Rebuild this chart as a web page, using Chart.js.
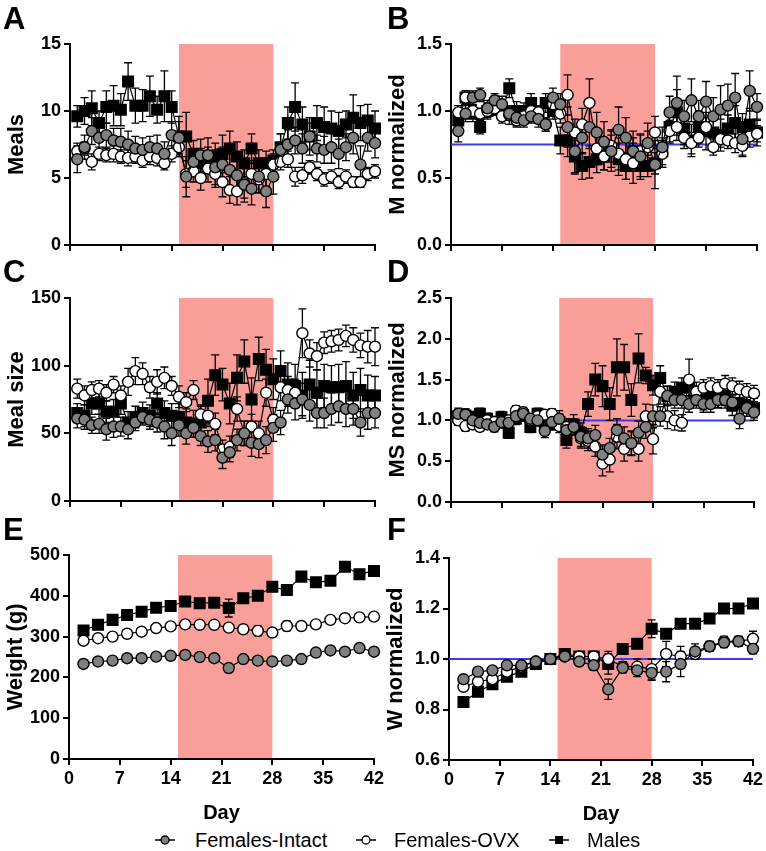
<!DOCTYPE html>
<html>
<head>
<meta charset="utf-8">
<script src="https://cdn.jsdelivr.net/npm/chart.js@4.4.0/dist/chart.umd.min.js"></script>
<style>
  body { margin: 0; background: #fff; width: 766px; height: 851px; position: relative; overflow: hidden;
         font-family: "Liberation Sans", Arial, sans-serif; }
  canvas { position: absolute; }
  .letter { position: absolute; font-weight: bold; font-size: 31px; line-height: 1; }
  .legend { position: absolute; top: 828px; left: 0; width: 766px; height: 24px; font-size: 20px; }
  .item { position: absolute; top: 0; line-height: 24px; }
  .item svg { position: absolute; top: 5px; }
</style>
</head>
<body>

<canvas id="chartA"></canvas>
<canvas id="chartB"></canvas>
<canvas id="chartC"></canvas>
<canvas id="chartD"></canvas>
<canvas id="chartE"></canvas>
<canvas id="chartF"></canvas>

<div class="letter" style="left:3px;top:3px">A</div>
<div class="letter" style="left:387px;top:3px">B</div>
<div class="letter" style="left:3px;top:256px">C</div>
<div class="letter" style="left:387px;top:256px">D</div>
<div class="letter" style="left:3px;top:514px">E</div>
<div class="letter" style="left:387px;top:514px">F</div>

<div class="legend">
  <div class="item" style="left:154px"><svg width="22" height="14"><line x1="1" y1="7" x2="21" y2="7" stroke="#000" stroke-width="1.5"/><circle cx="11" cy="7" r="4" fill="#808080" stroke="#000" stroke-width="1.3"/></svg><span style="position:absolute;left:41px;white-space:nowrap">Females-Intact</span></div>
  <div class="item" style="left:355px"><svg width="22" height="14"><line x1="1" y1="7" x2="21" y2="7" stroke="#000" stroke-width="1.5"/><circle cx="11" cy="7" r="4" fill="#fff" stroke="#000" stroke-width="1.3"/></svg><span style="position:absolute;left:39px;white-space:nowrap">Females-OVX</span></div>
  <div class="item" style="left:548px"><svg width="22" height="14"><line x1="1" y1="7" x2="21" y2="7" stroke="#000" stroke-width="1.5"/><rect x="7" y="3" width="8" height="8" fill="#000"/></svg><span style="position:absolute;left:39px;white-space:nowrap">Males</span></div>
</div>

<script>
// Days (daily panels A-D) and weighing days (panels E-F)
const days = [1,2,3,4,5,6,7,8,9,10,11,12,13,14,15,16,17,18,19,20,21,22,23,24,25,26,27,28,29,30,31,32,33,34,35,36,37,38,39,40,41,42];
const weighDays = [2,4,6,8,10,12,14,16,18,20,22,24,26,28,30,32,34,36,38,40,42];
const xTicks = [0,7,14,21,28,35,42];
const shadeFrom = 15, shadeTo = 28;

// A: Meals
const mealsIntact = [6.4,7.3,8.5,8.0,8.2,7.8,7.7,7.5,7.2,7.1,7.3,7.2,6.8,8.2,8.0,5.1,6.2,6.7,6.7,5.8,6.0,5.6,5.2,4.5,4.2,5.1,4.0,5.1,7.1,7.5,7.8,7.2,8.1,7.2,7.1,7.3,6.8,7.3,8.0,6.0,8.0,7.6];
const mealsIntactErr = [1.0,0.9,1.0,1.0,0.9,0.9,1.0,1.0,0.9,0.9,0.8,1.0,0.9,1.0,1.2,1.5,1.0,1.2,1.3,1.3,1.3,1.4,1.4,1.3,1.2,1.2,1.2,1.3,1.2,1.1,1.0,1.1,1.0,1.0,1.0,1.2,1.1,1.0,1.2,1.4,1.0,1.1];
const mealsOVX = [7.0,7.2,6.2,6.8,6.7,6.8,6.6,6.5,6.6,6.3,6.6,6.5,6.1,6.8,7.3,5.3,5.5,5.0,5.7,5.3,4.7,4.1,4.0,4.6,5.3,4.9,5.3,6.0,6.2,6.4,5.1,5.2,5.8,5.3,4.9,5.1,4.7,5.1,4.7,4.7,5.3,5.5];
const mealsOVXErr = [0.6,0.5,0.6,0.5,0.5,0.6,0.5,0.6,0.5,0.5,0.6,0.6,0.5,0.6,0.7,1.0,0.8,0.9,1.0,1.0,1.1,1.0,1.0,1.1,1.0,1.0,0.9,0.8,0.6,0.6,0.7,0.6,0.5,0.5,0.5,0.5,0.5,0.5,0.4,0.4,0.5,0.5];
const mealsMales = [9.6,10.0,10.2,9.1,10.3,10.4,10.1,12.2,10.4,10.4,11.1,10.1,11.1,10.3,8.1,8.1,6.8,6.1,6.3,6.6,6.8,7.2,6.6,6.1,7.2,6.1,6.1,6.3,7.3,9.1,10.3,9.0,8.1,9.1,8.8,8.7,8.5,9.0,9.5,9.1,9.3,8.7];
const mealsMalesErr = [0.8,1.0,1.3,0.9,1.2,1.5,1.2,1.4,1.3,1.2,1.5,1.0,1.9,1.2,1.5,1.8,1.0,1.1,1.0,1.0,1.4,1.3,1.1,1.0,1.1,1.0,0.9,0.8,1.0,1.2,1.8,1.3,1.4,1.3,1.5,1.3,1.4,1.0,1.7,1.3,1.2,1.3];

// B: M normalized
const mNormIntact = [0.85,0.98,1.10,1.12,1.02,1.08,1.05,0.98,0.95,0.93,0.96,0.94,0.90,1.10,1.05,0.88,0.70,0.80,0.88,0.84,0.77,0.70,0.86,0.80,0.70,0.66,0.76,0.60,0.73,0.99,1.06,0.96,1.08,0.96,1.07,0.96,1.01,1.04,1.10,0.79,1.15,1.03];
const mNormIntactErr = [0.08,0.06,0.05,0.05,0.06,0.05,0.06,0.05,0.06,0.05,0.05,0.06,0.05,0.07,0.08,0.15,0.17,0.12,0.16,0.15,0.15,0.15,0.17,0.15,0.15,0.17,0.15,0.18,0.15,0.12,0.20,0.12,0.16,0.12,0.15,0.14,0.18,0.16,0.18,0.12,0.15,0.10];
const mNormOVX = [0.99,1.10,1.00,0.98,1.00,1.02,0.96,0.97,0.93,0.96,1.00,0.99,0.90,1.05,0.98,1.12,0.84,0.90,1.06,0.72,0.66,0.74,0.68,0.64,0.61,0.70,0.73,0.84,0.68,0.85,0.88,0.80,0.76,0.80,0.88,0.73,0.79,0.78,0.76,0.74,0.81,0.83];
const mNormOVXErr = [0.05,0.05,0.04,0.04,0.05,0.05,0.05,0.07,0.05,0.04,0.05,0.05,0.05,0.05,0.07,0.15,0.10,0.12,0.18,0.12,0.10,0.12,0.12,0.15,0.15,0.12,0.12,0.12,0.10,0.08,0.10,0.08,0.08,0.07,0.07,0.06,0.06,0.06,0.07,0.08,0.08,0.06];
const mNormMales = [0.93,1.10,0.98,0.88,1.00,1.04,1.00,1.17,1.00,1.00,1.06,0.97,1.06,1.00,0.78,0.78,0.66,0.59,0.62,0.64,0.66,0.70,0.64,0.59,0.70,0.59,0.59,0.61,0.70,0.88,0.99,0.87,0.78,0.88,0.85,0.84,0.82,0.87,0.91,0.88,0.90,0.84];
const mNormMalesErr = [0.06,0.05,0.06,0.05,0.06,0.07,0.07,0.07,0.07,0.06,0.07,0.06,0.07,0.06,0.10,0.12,0.12,0.10,0.12,0.10,0.10,0.12,0.12,0.10,0.10,0.08,0.08,0.08,0.10,0.12,0.17,0.12,0.12,0.12,0.14,0.12,0.12,0.10,0.13,0.10,0.12,0.10];

// C: Meal size
const sizeIntact = [61,60,56,57,53,55,55,53,58,62,60,58,55,50,56,50,54,48,44,45,32,36,45,50,43,42,45,54,58,75,72,75,71,65,65,68,70,68,68,58,65,65];
const sizeIntactErr = [7,7,6,7,8,8,7,7,6,6,7,7,9,9,8,8,7,7,8,8,8,7,8,9,10,10,10,10,9,10,12,12,12,11,11,12,12,13,12,10,12,11];
const sizeOVX = [83,78,82,83,80,86,78,88,96,94,84,88,91,85,77,73,82,64,63,57,38,40,68,50,55,50,80,60,84,82,80,124,109,107,117,118,119,122,119,115,114,114];
const sizeOVXErr = [7,7,6,6,6,6,7,10,10,8,8,9,8,7,8,7,7,7,8,8,7,8,9,9,9,9,10,9,10,10,10,18,10,10,8,8,8,8,9,9,12,14];
const sizeMales = [65,63,72,72,66,66,72,58,62,65,63,72,65,63,62,58,57,58,74,93,86,72,91,103,75,105,97,90,96,86,85,78,86,80,85,84,84,85,78,82,78,78];
const sizeMalesErr = [7,8,8,8,8,9,8,8,8,8,8,8,9,9,10,10,10,12,16,15,12,15,17,16,16,16,15,15,15,16,16,17,18,17,16,16,17,18,17,16,15,14];

// D: MS normalized
const sNormIntact = [1.08,1.07,1.00,0.97,0.95,0.92,0.98,0.97,1.05,1.08,1.02,1.00,0.87,0.98,1.02,0.88,0.92,0.80,0.78,0.82,0.58,0.66,0.88,0.78,0.72,0.85,0.92,1.05,1.05,1.30,1.25,1.25,1.20,1.25,1.20,1.20,1.25,1.25,1.22,1.02,1.15,1.10];
const sNormIntactErr = [0.07,0.07,0.06,0.06,0.06,0.06,0.07,0.07,0.07,0.07,0.06,0.07,0.08,0.07,0.10,0.10,0.10,0.12,0.12,0.12,0.12,0.12,0.14,0.14,0.14,0.14,0.14,0.14,0.12,0.12,0.10,0.10,0.10,0.10,0.10,0.10,0.10,0.10,0.10,0.12,0.10,0.10];
const sNormOVX = [1.00,0.93,0.95,0.92,1.00,0.98,0.97,1.00,1.12,1.10,1.00,1.05,1.07,1.08,0.93,0.92,0.92,0.78,0.75,0.68,0.47,0.52,0.80,0.65,0.72,0.65,1.05,0.77,1.35,1.05,1.00,0.97,1.50,1.35,1.40,1.42,1.40,1.45,1.42,1.38,1.35,1.33];
const sNormOVXErr = [0.06,0.06,0.05,0.05,0.06,0.06,0.06,0.06,0.06,0.06,0.06,0.06,0.06,0.06,0.08,0.10,0.10,0.12,0.12,0.12,0.15,0.15,0.15,0.15,0.15,0.15,0.15,0.18,0.15,0.15,0.12,0.10,0.25,0.12,0.10,0.10,0.10,0.10,0.10,0.10,0.10,0.10];
const sNormMales = [1.05,1.06,1.04,1.08,1.02,0.98,1.04,0.85,1.02,1.06,0.92,1.08,0.98,0.96,0.98,0.76,0.95,0.85,1.20,1.50,1.42,1.20,1.65,1.65,1.25,1.76,1.55,1.43,1.52,1.30,1.35,1.40,1.42,1.30,1.25,1.30,1.28,1.30,1.18,1.20,1.17,1.15];
const sNormMalesErr = [0.08,0.08,0.07,0.07,0.07,0.07,0.07,0.07,0.07,0.07,0.07,0.07,0.08,0.08,0.10,0.10,0.12,0.12,0.15,0.20,0.25,0.20,0.35,0.28,0.20,0.30,0.10,0.12,0.15,0.12,0.12,0.12,0.12,0.12,0.12,0.12,0.12,0.12,0.12,0.12,0.12,0.12];

// E: Weight (g)
const weightIntact = [233,239,241,247,247,251,253,255,250,247,223,245,241,239,241,245,261,266,263,272,263];
const weightIntactErr = [4,4,4,4,4,4,4,4,4,4,8,5,5,5,5,5,5,5,5,5,5];
const weightOVX = [290,296,300,307,312,321,325,330,329,329,322,318,314,310,326,326,330,341,345,347,349];
const weightOVXErr = [4,4,4,4,4,4,4,4,5,5,5,5,12,10,12,6,6,6,6,6,6];
const weightMales = [315,329,341,353,361,371,375,386,382,383,370,394,400,422,414,447,433,437,471,453,461];
const weightMalesErr = [5,5,5,5,5,6,6,6,7,8,22,8,8,10,8,8,8,8,8,8,8];

// F: W normalized
const wNormIntact = [0.92,0.95,0.955,0.975,0.975,0.99,1.00,1.01,0.99,0.975,0.88,0.965,0.955,0.945,0.95,0.98,1.03,1.05,1.065,1.07,1.04];
const wNormIntactErr = [0.01,0.01,0.01,0.01,0.01,0.01,0.005,0.01,0.015,0.02,0.04,0.02,0.025,0.03,0.04,0.05,0.03,0.02,0.02,0.02,0.02];
const wNormOVX = [0.89,0.91,0.92,0.95,0.97,0.99,1.00,1.01,1.01,1.01,1.00,0.97,0.97,0.96,1.02,1.01,1.02,1.05,1.07,1.07,1.08];
const wNormOVXErr = [0.01,0.01,0.01,0.01,0.01,0.01,0.005,0.01,0.01,0.02,0.03,0.02,0.03,0.04,0.05,0.04,0.02,0.02,0.02,0.02,0.03];
const wNormMales = [0.83,0.87,0.90,0.93,0.95,0.98,1.00,1.02,1.01,1.01,0.98,1.04,1.06,1.12,1.10,1.14,1.14,1.16,1.20,1.20,1.22];
const wNormMalesErr = [0.01,0.01,0.01,0.01,0.01,0.01,0.005,0.01,0.01,0.01,0.04,0.01,0.01,0.035,0.01,0.01,0.01,0.01,0.01,0.01,0.01];

const pink = '#F99E99';
const blue = '#3C3CE6';

// shaded treatment period, reference line and error bars
const panelPlugin = {
  id: 'panelExtras',
  beforeDraw(chart) {
    const {ctx, scales: {x, y}} = chart;
    const x0 = x.getPixelForValue(shadeFrom), x1 = x.getPixelForValue(shadeTo);
    const y0 = y.getPixelForValue(y.max), y1 = y.getPixelForValue(y.min);
    ctx.save();
    ctx.fillStyle = pink;
    ctx.fillRect(x0, y0, x1 - x0, y1 - y0);
    ctx.restore();
  },
  beforeDatasetsDraw(chart) {
    const {ctx, chartArea, scales: {x, y}} = chart;
    const ref = chart.options.plugins.panelExtras.ref;
    ctx.save();
    if (ref != null) {
      const yy = y.getPixelForValue(ref);
      ctx.strokeStyle = blue;
      ctx.lineWidth = 2;
      ctx.beginPath();
      ctx.moveTo(chartArea.left, yy);
      ctx.lineTo(chartArea.right, yy);
      ctx.stroke();
    }
    ctx.strokeStyle = '#000';
    ctx.lineWidth = 1.3;
    const cap = 4;
    for (let i = chart.data.datasets.length - 1; i >= 0; i--) {
      const ds = chart.data.datasets[i];
      ds.data.forEach((p, j) => {
        const e = ds.errs[j];
        const px = x.getPixelForValue(p.x);
        const top = y.getPixelForValue(p.y + e), bot = y.getPixelForValue(p.y - e);
        ctx.beginPath();
        ctx.moveTo(px, top); ctx.lineTo(px, bot);
        ctx.moveTo(px - cap, top); ctx.lineTo(px + cap, top);
        ctx.moveTo(px - cap, bot); ctx.lineTo(px + cap, bot);
        ctx.stroke();
      });
    }
    ctx.restore();
  }
};

function series(xs, ys, errs, kind) {
  const fill = kind === 'intact' ? '#808080' : kind === 'ovx' ? '#ffffff' : '#000000';
  const isSq = kind === 'males';
  return {
    data: xs.map((d, i) => ({x: d, y: ys[i]})),
    errs: errs,
    borderColor: '#000',
    borderWidth: 1.2,
    pointStyle: isSq ? 'rect' : 'circle',
    pointRadius: isSq ? 7.5 : 5.5,
    pointBackgroundColor: fill,
    pointBorderColor: '#000',
    pointBorderWidth: 1.4,
    tension: 0,
    clip: false
  };
}

function panel(id, area, yTitle, yMin, yMax, yStep, yDec, sets, ref, showX) {
  const yw = 70, padR = 22, padT = 14;
  const xh = showX ? 66 : 14;
  const cv = document.getElementById(id);
  cv.width = area.r - area.l + yw + padR;
  cv.height = area.b - area.t + padT + xh;
  cv.style.left = (area.l - yw) + 'px';
  cv.style.top = (area.t - padT) + 'px';
  const tickFont = {family: '"Liberation Sans", Arial, sans-serif', size: 18, weight: 'bold'};
  const titleFont = {family: '"Liberation Sans", Arial, sans-serif', size: 22, weight: 'bold'};
  new Chart(cv, {
    type: 'line',
    data: {datasets: sets},
    options: {
      responsive: false,
      animation: false,
      events: [],
      layout: {padding: {left: 0, right: padR, top: padT, bottom: 0}},
      plugins: {legend: {display: false}, tooltip: {enabled: false}, panelExtras: {ref: ref}},
      scales: {
        x: {
          type: 'linear', min: 0, max: 42,
          afterBuildTicks: s => { s.ticks = xTicks.map(v => ({value: v})); },
          afterFit: s => { s.height = xh; },
          border: {color: '#000', width: 2},
          grid: {drawOnChartArea: false, tickLength: 6, color: '#000', lineWidth: 2},
          ticks: {display: showX, color: '#000', font: tickFont, padding: 3, maxRotation: 0},
          title: {display: showX, text: 'Day', color: '#000', font: {family: '"Liberation Sans", Arial, sans-serif', size: 20, weight: 'bold'}, padding: {top: 0, bottom: 0}}
        },
        y: {
          type: 'linear', min: yMin, max: yMax,
          afterFit: s => { s.width = yw; },
          border: {color: '#000', width: 2},
          grid: {drawOnChartArea: false, tickLength: 6, color: '#000', lineWidth: 2},
          ticks: {stepSize: yStep, color: '#000', font: tickFont, padding: 3,
                  callback: v => v.toFixed(yDec)},
          title: {display: true, text: yTitle, color: '#000', font: titleFont, padding: {top: 4, bottom: 0}}
        }
      }
    },
    plugins: [panelPlugin]
  });
}

panel('chartA', {l: 70, r: 375, t: 44, b: 245}, 'Meals', 0, 15, 5, 0, [
  series(days, mealsIntact, mealsIntactErr, 'intact'),
  series(days, mealsOVX, mealsOVXErr, 'ovx'),
  series(days, mealsMales, mealsMalesErr, 'males')
], null, false);

panel('chartB', {l: 451, r: 757, t: 44, b: 245}, 'M normalized', 0, 1.5, 0.5, 1, [
  series(days, mNormIntact, mNormIntactErr, 'intact'),
  series(days, mNormOVX, mNormOVXErr, 'ovx'),
  series(days, mNormMales, mNormMalesErr, 'males')
], 0.75, false);

panel('chartC', {l: 70, r: 375, t: 298, b: 501}, 'Meal size', 0, 150, 50, 0, [
  series(days, sizeIntact, sizeIntactErr, 'intact'),
  series(days, sizeOVX, sizeOVXErr, 'ovx'),
  series(days, sizeMales, sizeMalesErr, 'males')
], null, false);

panel('chartD', {l: 451, r: 754, t: 298, b: 502}, 'MS normalized', 0, 2.5, 0.5, 1, [
  series(days, sNormIntact, sNormIntactErr, 'intact'),
  series(days, sNormOVX, sNormOVXErr, 'ovx'),
  series(days, sNormMales, sNormMalesErr, 'males')
], 1.0, false);

panel('chartE', {l: 69, r: 374, t: 555, b: 759}, 'Weight (g)', 0, 500, 100, 0, [
  series(weighDays, weightIntact, weightIntactErr, 'intact'),
  series(weighDays, weightOVX, weightOVXErr, 'ovx'),
  series(weighDays, weightMales, weightMalesErr, 'males')
], null, true);

panel('chartF', {l: 449, r: 753, t: 558, b: 760}, 'W normalized', 0.6, 1.4, 0.2, 1, [
  series(weighDays, wNormIntact, wNormIntactErr, 'intact'),
  series(weighDays, wNormOVX, wNormOVXErr, 'ovx'),
  series(weighDays, wNormMales, wNormMalesErr, 'males')
], 1.0, true);
</script>
</body>
</html>
